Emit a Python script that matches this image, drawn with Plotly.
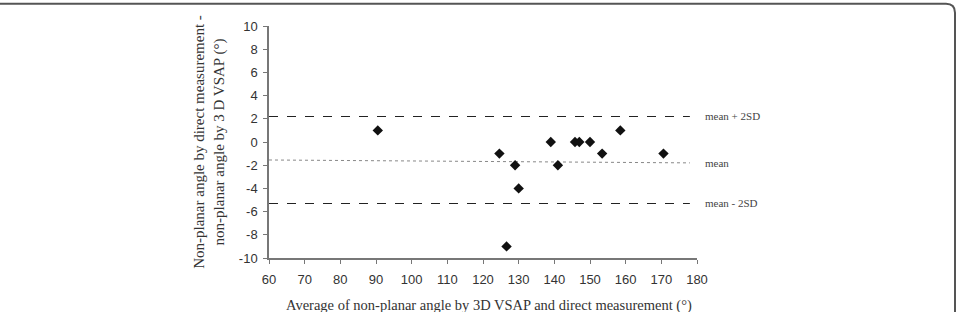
import plotly.graph_objects as go

# Data
avg_angle = [90.5, 124.6, 126.6, 129.0, 130.0, 139.0, 141.0, 145.8, 147.0, 150.0, 153.4, 158.5, 170.6]
difference = [1, -1, -9, -2, -4, 0, -2, 0, 0, 0, -1, 1, -1]

upper_loa = 2.2
lower_loa = -5.3
mean_line_x = [60, 178]
mean_line_y = [-1.55, -1.8]
line_x = [60, 178]

x_ticks = list(range(60, 181, 10))
y_ticks = list(range(-10, 11, 2))
y_tick_text = [str(v) for v in y_ticks]  # hyphen minus as in the reference

x_title = "Average of non-planar angle by 3D VSAP and direct measurement (°)"
y_title = "Non-planar angle by direct measurement -<br>non-planar angle by 3 D VSAP (°)"

serif = "Liberation Serif, Times New Roman, serif"
sans = "Liberation Sans, Arial, sans-serif"

fig = go.Figure()
fig.add_trace(go.Scatter(x=line_x, y=[upper_loa, upper_loa], mode="lines",
                         line=dict(color="#222", width=1.2, dash="dash"), hoverinfo="skip"))
fig.add_trace(go.Scatter(x=line_x, y=[lower_loa, lower_loa], mode="lines",
                         line=dict(color="#222", width=1.2, dash="dash"), hoverinfo="skip"))
fig.add_trace(go.Scatter(x=mean_line_x, y=mean_line_y, mode="lines",
                         line=dict(color="#888", width=1, dash="dot"), hoverinfo="skip"))
fig.add_trace(go.Scatter(x=avg_angle, y=difference, mode="markers",
                         marker=dict(symbol="diamond", size=8, color="#111")))

L, R, T, B = 269.0, 697.0, 25.7, 257.7
W, H = R - L, B - T
def px(x): return (x - L) / W
def py(y): return (B - y) / H

for txt, yv in [("mean + 2SD", upper_loa), ("mean", mean_line_y[1]), ("mean - 2SD", lower_loa)]:
    fig.add_annotation(x=px(703), xref="paper", y=yv, yref="y", text=txt, showarrow=False,
                       xanchor="left", font=dict(family=serif, size=11, color="#444"))

# x-axis title as annotation for exact placement
fig.add_annotation(x=px(489), xref="paper", y=py(305), yref="paper", text=x_title,
                   showarrow=False, xanchor="center", yanchor="middle",
                   font=dict(family=serif, size=14.5, color="#333"))

# outer rounded frame (paper coordinates)
r = 9
path = (f"M {px(-5)},{py(3.5)} L {px(955-r)},{py(3.5)} "
        f"Q {px(955)},{py(3.5)} {px(955)},{py(3.5+r)} L {px(955)},{py(320)}")
fig.add_shape(type="path", path=path, xref="paper", yref="paper",
              line=dict(color="#555", width=2))

fig.update_layout(
    width=961, height=312,
    margin=dict(l=269, r=264, t=26, b=54, autoexpand=False),
    paper_bgcolor="white", plot_bgcolor="white",
    showlegend=False,
    xaxis=dict(range=[60, 180], tickvals=x_ticks, showgrid=False, zeroline=False,
               showline=True, linecolor="#777", linewidth=1.5, ticks="outside",
               ticklen=4, tickcolor="#777", automargin=False, ticklabelstandoff=5,
               tickfont=dict(family=sans, size=13, color="#333")),
    yaxis=dict(range=[-10, 10], tickvals=y_ticks, ticktext=y_tick_text, showgrid=False, zeroline=False,
               showline=True, linecolor="#777", linewidth=1.5, ticks="outside",
               ticklen=4, tickcolor="#777", automargin=False, ticklabelstandoff=3,
               tickfont=dict(family=sans, size=13, color="#333"),
               title=dict(text=y_title,
                          font=dict(family=serif, size=15, color="#333"), standoff=11)),
)

fig.write_html("out.html")
